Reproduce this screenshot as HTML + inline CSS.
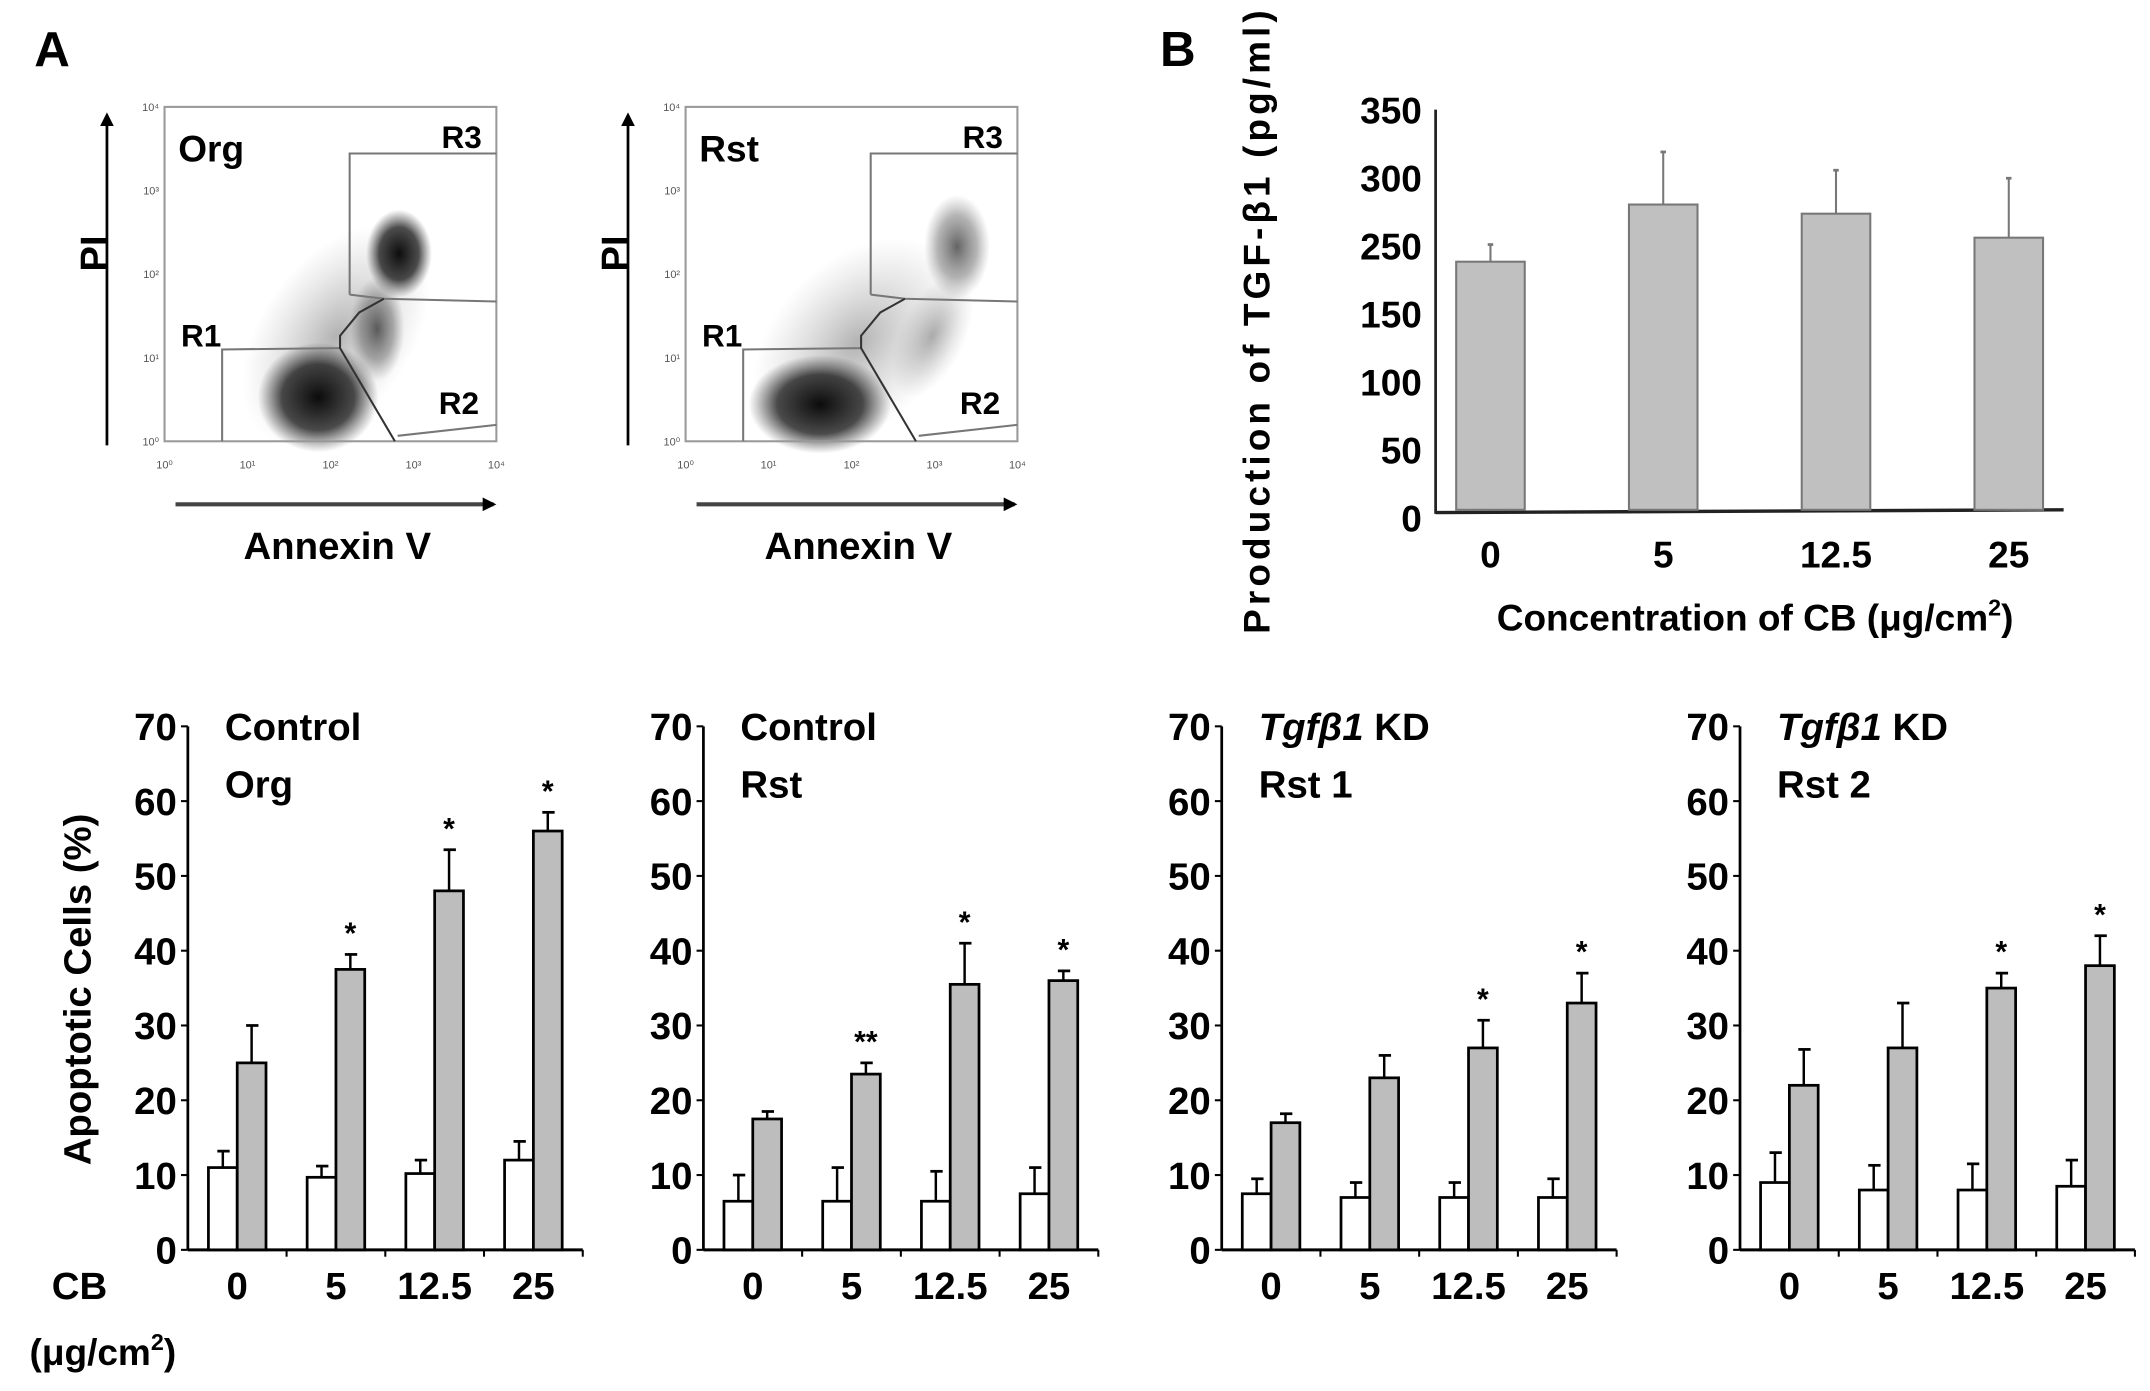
<!DOCTYPE html>
<html><head><meta charset="utf-8"><style>
html,body{margin:0;padding:0;background:#fff;}
svg{display:block;font-family:"Liberation Sans",Arial,sans-serif;font-weight:bold;}
.n{font-family:"Liberation Sans Narrow","Liberation Sans",sans-serif;}
</style></head><body>
<svg id="fig" width="2150" height="1391" viewBox="0 0 1568 1015" preserveAspectRatio="none" xmlns="http://www.w3.org/2000/svg">
<defs>
<radialGradient id="gd"><stop offset="0" stop-color="#000" stop-opacity="0.95"/><stop offset="0.6" stop-color="#111" stop-opacity="0.75"/><stop offset="1" stop-color="#333" stop-opacity="0"/></radialGradient>
<radialGradient id="gm"><stop offset="0" stop-color="#222" stop-opacity="0.7"/><stop offset="0.6" stop-color="#444" stop-opacity="0.4"/><stop offset="1" stop-color="#666" stop-opacity="0"/></radialGradient>
<radialGradient id="gl"><stop offset="0" stop-color="#555" stop-opacity="0.45"/><stop offset="1" stop-color="#888" stop-opacity="0"/></radialGradient>
<marker id="ah" markerWidth="10" markerHeight="10" refX="8" refY="5" orient="auto" markerUnits="userSpaceOnUse"><path d="M0,0 L10,5 L0,10 z" fill="#000"/></marker>
</defs>
<text x="25" y="48" font-size="36">A</text>
<text x="846" y="48" font-size="36">B</text>
<g id="flow"></g>
<g id="panelB"></g>
<g id="bars"></g>
<text transform="translate(66,722) rotate(-90)" text-anchor="middle" font-size="28">Apoptotic Cells (%)</text>
<text x="58" y="948" text-anchor="middle" font-size="28">CB</text>
<text x="75" y="996" text-anchor="middle" font-size="27">(μg/cm<tspan font-size="17" dy="-11">2</tspan><tspan dy="11">)</tspan></text>
</svg>
<script>
const NS="http://www.w3.org/2000/svg";
// ---- bottom bar chart data ----
const cats=["0","5","12.5","25"];
const yTicks=[0,10,20,30,40,50,60,70];
const orgWhite=[11,9.7,10.2,12];
const orgWhiteErr=[2.2,1.5,1.8,2.5];
const orgGray=[25,37.5,48,56];
const orgGrayErr=[5,2,5.5,2.5];
const orgStars=["","*","*","*"];
const rstWhite=[6.5,6.5,6.5,7.5];
const rstWhiteErr=[3.5,4.5,4,3.5];
const rstGray=[17.5,23.5,35.5,36];
const rstGrayErr=[1,1.5,5.5,1.3];
const rstStars=["","**","*","*"];
const kd1White=[7.5,7,7,7];
const kd1WhiteErr=[2,2,2,2.5];
const kd1Gray=[17,23,27,33];
const kd1GrayErr=[1.2,3,3.7,4];
const kd1Stars=["","","*","*"];
const kd2White=[9,8,8,8.5];
const kd2WhiteErr=[4,3.3,3.5,3.5];
const kd2Gray=[22,27,35,38];
const kd2GrayErr=[4.8,6,2,4];
const kd2Stars=["","","*","*"];
// ---- panel B data ----
const bCats=["0","5","12.5","25"];
const bVals=[217,267,259,238];
const bErr=[15,46,38,52];
const bTickLabels=["350","300","250","150","100","50","0"];

function el(tag,attrs,parent,txt){const e=document.createElementNS(NS,tag);for(const k in attrs)e.setAttribute(k,attrs[k]);if(txt!==undefined)e.textContent=txt;parent.appendChild(e);return e;}

const barsG=document.getElementById('bars');
function barChart(ax,title1,title2,italic,W,WE,G,GE,S,key,narrow){
  const y0=912,y70=530,len=288;
  const y=v=>y0-v*(y0-y70)/70;
  const gw=len/4,bw=21,off=15;
  const g=el('g',{},barsG);
  
  
  const cls=narrow?'n':'';
  let a=el('line',{x1:ax,y1:y70,x2:ax,y2:y0,stroke:'#000','stroke-width':2},g);
  
  a=el('line',{x1:ax,y1:y0,x2:ax+len,y2:y0,stroke:'#000','stroke-width':2.2},g);
  
  yTicks.forEach(t=>{
    el('line',{x1:ax-5,y1:y(t),x2:ax,y2:y(t),stroke:'#000','stroke-width':1.5},g);
    const tx=el('text',{x:ax-8,y:y(t)+10,'text-anchor':'end','font-size':28,class:cls},g,String(t));
    
  });
  for(let i=1;i<=4;i++)el('line',{x1:ax+gw*i,y1:y0,x2:ax+gw*i,y2:y0+5,stroke:'#000','stroke-width':1.5},g);
  const tt=el('text',{x:ax+27,y:540,'font-size':28,class:cls},g);
  
  if(italic){el('tspan',{'font-style':'italic'},tt,italic);el('tspan',{},tt,title1);}else tt.textContent=title1;
  const t2=el('text',{x:ax+27,y:582,'font-size':28,class:cls},g,title2);
  
  cats.forEach((c,i)=>{
    const gx=ax+gw*i+off;
    const wx=gx, gx2=gx+bw;
    function errb(cx,v,e){
      el('line',{x1:cx,y1:y(v),x2:cx,y2:y(v+e),stroke:'#000','stroke-width':1.8},g);
      el('line',{x1:cx-4,y1:y(v+e),x2:cx+5,y2:y(v+e),stroke:'#000','stroke-width':2},g);
    }
    errb(wx+bw/2,W[i],WE[i]);
    errb(gx2+bw/2,G[i],GE[i]);
    const r1=el('rect',{x:wx,y:y(W[i]),width:bw,height:y0-y(W[i]),fill:'#fff',stroke:'#000','stroke-width':2},g);
    
    const r2=el('rect',{x:gx2,y:y(G[i]),width:bw,height:y0-y(G[i]),fill:'#bdbdbd',stroke:'#000','stroke-width':2},g);
    
    if(S[i]){const st=el('text',{x:gx2+bw/2,y:y(G[i]+GE[i])-8,'text-anchor':'middle','font-size':22},g,S[i]);
      }
    const xl=el('text',{x:gx+bw,y:948,'text-anchor':'middle','font-size':28,class:cls},g,c);
    
  });
}
barChart(137,"Control","Org",null,orgWhite,orgWhiteErr,orgGray,orgGrayErr,orgStars,'control-org',false);
barChart(513,"Control","Rst",null,rstWhite,rstWhiteErr,rstGray,rstGrayErr,rstStars,'control-rst',false);
barChart(891," KD","Rst 1","Tgfβ1",kd1White,kd1WhiteErr,kd1Gray,kd1GrayErr,kd1Stars,'kd-rst1',true);
barChart(1269," KD","Rst 2","Tgfβ1",kd2White,kd2WhiteErr,kd2Gray,kd2GrayErr,kd2Stars,'kd-rst2',true);

// ---- panel B ----
(function(){
  const g=document.getElementById('panelB');
  const ax=1047,y0=372,yTop=80,xEnd=1505;
  const y=v=>y0-v*(y0-yTop)/350;
  let a=el('line',{x1:ax,y1:yTop,x2:ax,y2:y0+3,stroke:'#222','stroke-width':2},g);
  
  a=el('line',{x1:ax,y1:y0+2,x2:xEnd,y2:y0,stroke:'#222','stroke-width':2.5},g);
  
  const n=bTickLabels.length;
  bTickLabels.forEach((t,i)=>{
    const cy=80+i*(298/(n-1));
    const tx=el('text',{x:ax-10,y:cy+10,'text-anchor':'end','font-size':27,class:'n'},g,t);
    
  });
  const sp=126,first=1087,bw=50;
  bCats.forEach((c,i)=>{
    const cx=first+sp*i;
    el('line',{x1:cx,y1:y(bVals[i]),x2:cx,y2:y(bVals[i]+bErr[i]),stroke:'#777','stroke-width':1.5},g);
    el('line',{x1:cx-2,y1:y(bVals[i]+bErr[i]),x2:cx+2,y2:y(bVals[i]+bErr[i]),stroke:'#777','stroke-width':2},g);
    const r=el('rect',{x:cx-bw/2,y:y(bVals[i]),width:bw,height:y0-y(bVals[i]),fill:'#c0c0c0',stroke:'#777','stroke-width':1.5},g);
    
    const xl=el('text',{x:cx,y:414,'text-anchor':'middle','font-size':27,class:'n'},g,c);
    
  });
  const yt=el('text',{transform:'translate(926,235) rotate(-90)','text-anchor':'middle','font-size':27,textLength:455,lengthAdjust:'spacing'},g,'Production of TGF-β1 (pg/ml)');
  
  const xt=el('text',{x:1280,y:460,'text-anchor':'middle','font-size':27,class:'n'},g);
  
  xt.innerHTML='Concentration of CB (μg/cm<tspan font-size="17" dy="-11">2</tspan><tspan dy="11">)</tspan>';
})();

// ---- flow cytometry panels ----
(function(){
  const root=document.getElementById('flow');
  function panel(dx,name,dense){
    const g=el('g',{transform:'translate('+dx+',0)'},root);
    
    const L=120,R=362,T=78,B=322;
    if(dense){
      el('ellipse',{cx:245,cy:245,rx:55,ry:90,fill:'url(#gl)',transform:'rotate(35 245 245)'},g);
      el('ellipse',{cx:232,cy:290,rx:44,ry:40,fill:'url(#gd)'},g);
      el('ellipse',{cx:291,cy:185,rx:24,ry:32,fill:'url(#gd)'},g);
      el('ellipse',{cx:275,cy:240,rx:20,ry:38,fill:'url(#gm)'},g);
    } else {
      el('ellipse',{cx:245,cy:250,rx:60,ry:90,fill:'url(#gl)',transform:'rotate(45 245 250)'},g);
      el('ellipse',{cx:218,cy:295,rx:52,ry:36,fill:'url(#gd)'},g);
      el('ellipse',{cx:318,cy:180,rx:24,ry:38,fill:'url(#gm)'},g);
      el('ellipse',{cx:300,cy:245,rx:24,ry:48,fill:'url(#gl)',transform:'rotate(25 300 245)'},g);
    }
    el('rect',{x:L,y:T,width:R-L,height:B-T,fill:'none',stroke:'#999','stroke-width':1.5},g);
    const gp='#777';
    el('polyline',{points:'255,215 255,112 362,112',fill:'none',stroke:gp,'stroke-width':1.5},g);
    el('polyline',{points:'255,215 280,218 362,220',fill:'none',stroke:gp,'stroke-width':1.5},g);
    el('polyline',{points:'162,322 162,255 248,254',fill:'none',stroke:gp,'stroke-width':1.5},g);
    el('polyline',{points:'280,218 262,228 248,245 248,254 288,322',fill:'none',stroke:'#333','stroke-width':1.5},g);
    el('polyline',{points:'290,318 362,310',fill:'none',stroke:gp,'stroke-width':1.5},g);
    [['R3',322,108],['R1',132,253],['R2',320,302],[name,130,118]].forEach(l=>{
      const t=el('text',{x:l[1],y:l[2],'font-size':l[0]===name?27:23},g,l[0]);
      
    });
    const lab=['10⁰','10¹','10²','10³','10⁴'];
    lab.forEach((s,i)=>{
      el('text',{x:L+i*(R-L)/4,y:342,'text-anchor':'middle','font-size':8,'font-weight':'normal',fill:'#555'},g,s);
      el('text',{x:L-4,y:B-i*(B-T)/4+3,'text-anchor':'end','font-size':8,'font-weight':'normal',fill:'#555'},g,s);
    });
    let a=el('line',{x1:78,y1:325,x2:78,y2:84,stroke:'#000','stroke-width':2,'marker-end':'url(#ah)'},g);
    
    a=el('line',{x1:128,y1:368,x2:360,y2:368,stroke:'#444','stroke-width':3,'marker-end':'url(#ah)'},g);
    
    let t=el('text',{transform:'translate(78,185) rotate(-90)','text-anchor':'middle','font-size':28},g,'PI');
    
    t=el('text',{x:246,y:408,'text-anchor':'middle','font-size':28},g,'Annexin V');
    
  }
  panel(0,'Org',true);
  panel(380,'Rst',false);
})();
</script>
</body></html>
